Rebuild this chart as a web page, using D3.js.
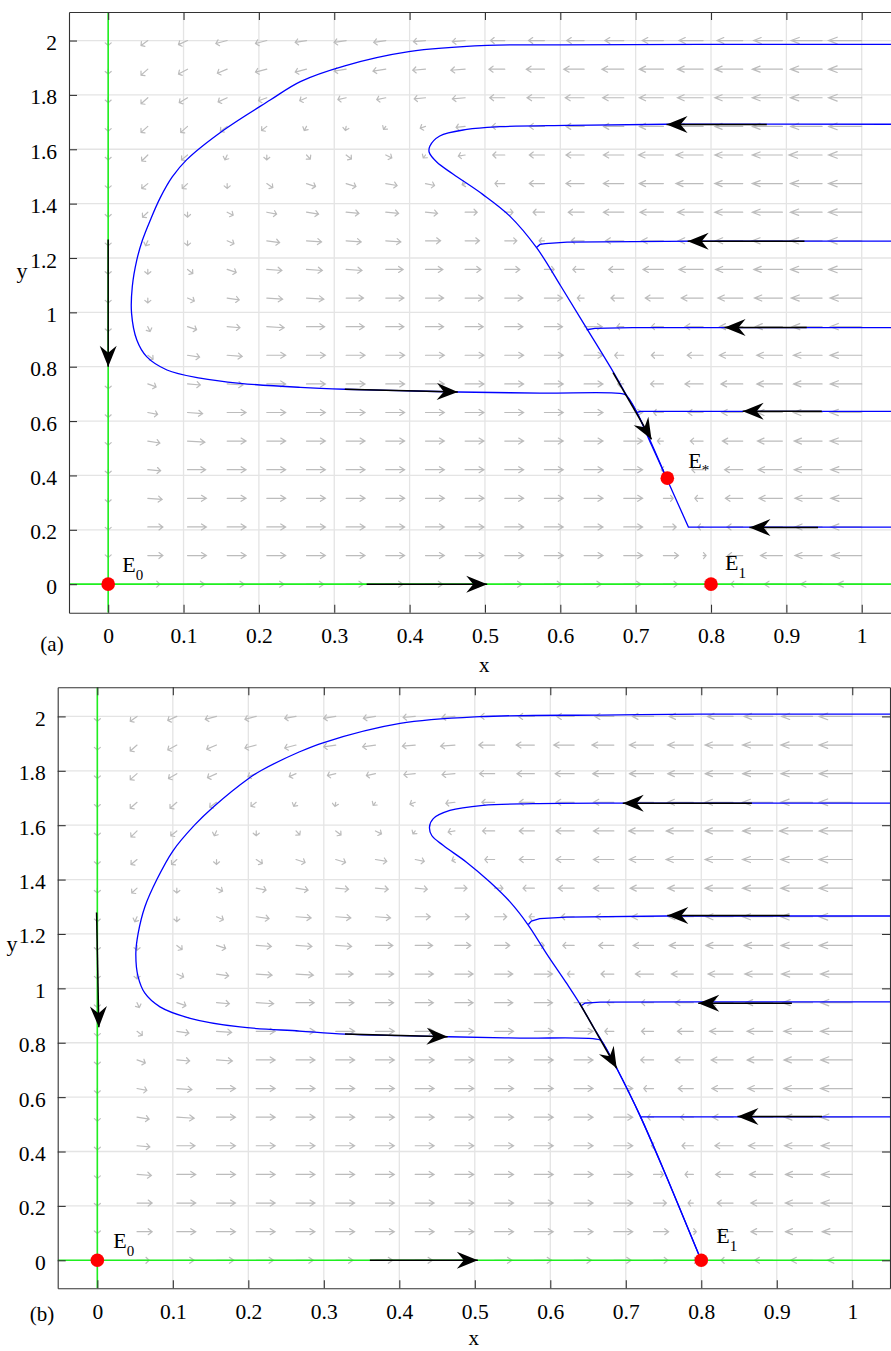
<!DOCTYPE html>
<html>
<head>
<meta charset="utf-8">
<script src="https://cdn.jsdelivr.net/npm/d3@7"></script>
<style>
  body { margin: 0; background: #fff; }
  svg text { font-family: "Liberation Serif", "Tinos", "Times New Roman", Times, "DejaVu Serif", "Noto Serif", serif; fill: #000; }
</style>
</head>
<body>
<svg id="fig" width="891" height="1351"></svg>
<script>
// ---------- data ----------
const xTicks = [0, 0.1, 0.2, 0.3, 0.4, 0.5, 0.6, 0.7, 0.8, 0.9, 1];
const yTicks = [0, 0.2, 0.4, 0.6, 0.8, 1, 1.2, 1.4, 1.6, 1.8, 2];

// quiver grid (20 x 20) and field components, in thousandths of an axis unit
const quiverX = [0, 0.0526, 0.1053, 0.1579, 0.2105, 0.2632, 0.3158, 0.3684, 0.4211, 0.4737,
                 0.5263, 0.5789, 0.6316, 0.6842, 0.7368, 0.7895, 0.8421, 0.8947, 0.9474, 1];
const quiverY = [0, 0.1053, 0.2105, 0.3158, 0.4211, 0.5263, 0.6316, 0.7368, 0.8421, 0.9474,
                 1.0526, 1.1579, 1.2632, 1.3684, 1.4737, 1.5789, 1.6842, 1.7895, 1.8947, 2];
const quiverU = [
  [0,16,23,23,23,23,23,23,23,23,23,23,23,23,19,5,-16,-24,-29,-33],
  [0,20,25,25,25,25,25,25,25,25,25,25,25,25,20,4,-20,-29,-36,-40],
  [0,20,25,25,25,25,25,25,25,25,25,25,25,25,17,-7,-21,-29,-36,-41],
  [0,19,25,25,25,25,25,25,25,25,25,25,25,25,13,-11,-23,-31,-36,-41],
  [0,17,24,25,25,25,25,25,25,25,25,25,25,25,-3,-15,-24,-32,-37,-41],
  [0,16,23,25,25,25,25,25,25,25,25,25,25,25,-8,-17,-27,-33,-37,-42],
  [0,13,20,25,25,25,25,25,25,25,25,25,25,25,-13,-20,-28,-33,-38,-42],
  [0,11,17,21,25,25,25,25,25,25,25,25,25,-8,-17,-24,-29,-34,-38,-42],
  [0,7,16,20,25,25,25,25,25,25,25,25,25,-12,-16,-21,-31,-34,-38,-42],
  [0,3,12,17,23,24,24,24,24,24,24,24,24,-9,-16,-24,-31,-36,-40,-42],
  [0,0,9,16,21,23,23,24,24,24,24,24,-9,-17,-24,-29,-33,-37,-41,-42],
  [0,0,7,12,20,21,21,23,23,21,20,13,-15,-20,-27,-32,-36,-38,-42,-44],
  [0,-3,0,9,17,20,20,20,20,19,16,-7,-17,-24,-29,-33,-36,-40,-42,-44],
  [0,-7,0,8,13,16,17,17,16,16,11,-15,-21,-27,-31,-34,-37,-40,-42,-44],
  [0,-8,-7,0,8,12,13,15,12,-4,-13,-20,-24,-27,-32,-36,-37,-40,-42,-44],
  [0,-8,-8,-3,0,5,7,8,-3,-9,-16,-20,-24,-27,-33,-36,-37,-40,-44,-44],
  [0,-9,-9,-9,-7,-3,-1,-3,-7,-12,-17,-20,-24,-27,-32,-34,-37,-40,-42,-44],
  [0,-9,-11,-12,-11,-9,-11,-12,-15,-17,-20,-23,-25,-28,-32,-34,-37,-40,-42,-44],
  [0,-9,-12,-13,-15,-15,-16,-17,-17,-19,-21,-24,-27,-29,-32,-34,-37,-40,-42,-44],
  [0,-9,-12,-15,-15,-15,-16,-16,-16,-17,-19,-21,-23,-25,-28,-32,-34,-38,-41,-44]
];
const quiverV = [
  [0,0,0,0,0,0,0,0,0,0,0,0,0,0,0,0,0,0,0,0],
  [-7,0,0,0,0,0,0,0,0,0,0,0,0,0,0,0,0,0,0,0],
  [-11,0,0,0,0,0,0,0,0,0,0,0,0,0,0,0,0,0,0,0],
  [-15,-4,0,0,0,0,0,0,0,0,0,0,0,0,0,0,0,0,0,0],
  [-15,-4,0,0,0,0,0,0,0,0,0,0,0,0,0,0,0,0,0,0],
  [-15,-7,-4,0,0,0,0,0,0,0,0,0,0,0,0,0,0,0,0,0],
  [-18,-7,-4,0,0,0,0,0,0,0,0,0,0,0,0,0,0,0,0,0],
  [-18,-11,-4,-4,0,0,0,0,0,0,0,0,0,0,0,0,0,0,0,0],
  [-18,-15,-7,-4,0,0,0,0,0,0,0,0,0,0,0,0,0,0,0,0],
  [-18,-18,-11,-4,-4,0,0,0,0,0,0,0,0,0,0,0,0,0,0,0],
  [-18,-18,-11,-7,-4,-4,0,0,0,0,0,0,0,0,0,0,0,0,0,0],
  [-18,-18,-15,-11,-4,-4,-4,0,0,0,0,0,0,0,0,0,0,0,0,0],
  [-18,-18,-18,-11,-7,-4,-4,-4,0,0,0,0,0,0,0,0,0,0,0,0],
  [-18,-18,-18,-11,-7,-7,-4,-4,-4,0,0,0,0,0,0,0,0,0,0,0],
  [-18,-18,-18,-18,-15,-11,-11,-7,-7,-4,0,0,0,0,0,0,0,0,0,0],
  [-18,-22,-18,-18,-18,-15,-15,-11,-11,-4,0,0,0,0,0,0,0,0,0,0],
  [-18,-22,-22,-18,-15,-15,-15,-11,-7,-4,0,0,0,0,0,0,0,0,0,0],
  [-18,-22,-18,-15,-11,-11,-7,-7,-4,-4,0,0,0,0,0,0,0,0,0,0],
  [-18,-22,-18,-15,-11,-11,-7,-7,-4,-4,0,0,0,0,0,0,0,0,0,0],
  [-18,-18,-15,-11,-11,-7,-7,-7,-4,-4,0,0,0,0,0,0,0,0,0,0]
];
const quiverScale = 0.001;

// panel (a) trajectories [x, y]
const trajA1 = [[1.05,1.986],[0.785,1.986],[0.600,1.984],[0.503,1.982],[0.399,1.959],[0.314,1.907],[0.255,1.849],[0.215,1.781],[0.153,1.670],[0.104,1.561],[0.085,1.498],[0.069,1.421],[0.056,1.340],[0.0455,1.266],[0.038,1.193],[0.032,1.095],[0.031,0.997],[0.038,0.898],[0.051,0.837],[0.078,0.788],[0.122,0.758],[0.175,0.739],[0.255,0.724],[0.314,0.717],[0.387,0.712],[0.464,0.707],[0.573,0.703],[0.679,0.702],[0.687,0.696],[0.701,0.635],[0.741,0.390]];
const trajA2 = [[1.05,1.692],[0.741,1.692],[0.609,1.688],[0.520,1.683],[0.476,1.673],[0.440,1.649],[0.427,1.612],[0.426,1.589],[0.436,1.553],[0.458,1.508],[0.497,1.434],[0.533,1.354],[0.569,1.236],[0.601,1.095],[0.635,0.941],[0.670,0.782],[0.690,0.685],[0.701,0.635],[0.721,0.512],[0.741,0.390]];
const trajA3 = [[1.05,1.262],[0.785,1.262],[0.609,1.258],[0.580,1.253],[0.573,1.250],[0.568,1.238]];
const trajA4 = [[1.05,0.944],[0.696,0.944],[0.646,0.941],[0.635,0.936]];
const trajA5 = [[1.05,0.636],[0.706,0.636],[0.701,0.631]];
const trajA6 = [[1.05,0.210],[0.770,0.210],[0.741,0.390]];

// panel (b) trajectories
const trajB1 = [[1.05,2.008],[0.798,2.008],[0.666,2.005],[0.507,1.999],[0.401,1.974],[0.300,1.904],[0.268,1.870],[0.217,1.801],[0.200,1.771],[0.154,1.668],[0.129,1.601],[0.100,1.505],[0.079,1.401],[0.063,1.300],[0.054,1.201],[0.051,1.129],[0.054,1.043],[0.063,0.982],[0.083,0.932],[0.123,0.890],[0.189,0.858],[0.268,0.843],[0.328,0.832],[0.401,0.826],[0.465,0.822],[0.560,0.817],[0.666,0.810],[0.670,0.798],[0.688,0.706],[0.719,0.531],[0.754,0.307],[0.796,0.026],[0.8,0]];
const trajB2 = [[1.05,1.681],[0.697,1.681],[0.577,1.679],[0.511,1.673],[0.467,1.654],[0.445,1.624],[0.440,1.593],[0.443,1.562],[0.458,1.526],[0.489,1.464],[0.520,1.391],[0.547,1.317],[0.571,1.232],[0.595,1.128],[0.622,1.017],[0.639,0.944],[0.657,0.858],[0.670,0.798],[0.688,0.706],[0.719,0.531],[0.754,0.307],[0.796,0.026],[0.8,0]];
const trajB3 = [[1.05,1.266],[0.754,1.266],[0.622,1.262],[0.586,1.256],[0.575,1.247],[0.571,1.235]];
const trajB4 = [[1.05,0.950],[0.798,0.950],[0.666,0.949],[0.646,0.946],[0.642,0.938]];
const trajB5 = [[1.05,0.527],[0.721,0.527],[0.719,0.523]];

// direction arrows: [tail, tip]
const arrowsA = [
  [[0,1.268],[0,0.800]],
  [[0.874,1.691],[0.741,1.691]],
  [[0.924,1.262],[0.769,1.262]],
  [[0.927,0.944],[0.818,0.944]],
  [[0.947,0.636],[0.842,0.636]],
  [[0.942,0.208],[0.851,0.208]],
  [[0.314,0.717],[0.464,0.707]],
  [[0.670,0.778],[0.721,0.533]],
  [[0.343,0],[0.503,0]]
];
const arrowsB = [
  [[-0.001,1.279],[0.002,0.857]],
  [[0.867,1.681],[0.696,1.681]],
  [[0.917,1.268],[0.755,1.268]],
  [[0.920,0.945],[0.796,0.945]],
  [[0.960,0.529],[0.848,0.529]],
  [[0.328,0.832],[0.464,0.822]],
  [[0.639,0.945],[0.688,0.706]],
  [[0.361,0],[0.504,0]]
];

// equilibria
const equilibriaA = [
  { name: "E", sub: "0", x: 0, y: 0 },
  { name: "E", sub: "1", x: 0.8, y: 0 },
  { name: "E", sub: "*", x: 0.742, y: 0.39 }
];
const equilibriaB = [
  { name: "E", sub: "0", x: 0, y: 0 },
  { name: "E", sub: "1", x: 0.8, y: 0 }
];

// ---------- layout ----------
const panels = [
  { id: "a", left: 69, right: 899.4, top: 12, bottom: 612.7,
    xDomain: [-0.052, 1.05], yDomain: [-0.105, 2.105],
    trajectories: [trajA1, trajA2, trajA3, trajA4, trajA5, trajA6],
    arrows: arrowsA, equilibria: equilibriaA,
    labelOffsets: [[14, -12], [14, -14], [21, -10]],
    xLabelGap: 59, yLabel: [22, 278], tag: [52, 651] },
  { id: "b", left: 57.7, right: 890, top: 687.3, bottom: 1288.3,
    xDomain: [-0.0525, 1.05], yDomain: [-0.103, 2.107],
    trajectories: [trajB1, trajB2, trajB3, trajB4, trajB5],
    arrows: arrowsB, equilibria: equilibriaB,
    labelOffsets: [[16, -12], [15, -17]],
    xLabelGap: 57, yLabel: [12, 951], tag: [42, 1321] }
];

const FONT = '"Liberation Serif", "Tinos", "Times New Roman", Times, "DejaVu Serif", "Noto Serif", serif';
const svg = d3.select("#fig");

function quiverPath(x0, y0, x1, y1) {
  const dx = x1 - x0, dy = y1 - y0;
  const L = Math.hypot(dx, dy);
  if (L < 0.5) return "";
  const ux = dx / L, uy = dy / L;
  const back = Math.max(0.26 * L, 2.6), hw = Math.max(0.1 * L, 3);
  const bx = x1 - back * ux, by = y1 - back * uy;
  return `M${x0},${y0}L${x1},${y1}M${bx - hw * uy},${by + hw * ux}L${x1},${y1}L${bx + hw * uy},${by - hw * ux}`;
}

function headPath(x0, y0, x1, y1) {
  const dx = x1 - x0, dy = y1 - y0;
  const L = Math.hypot(dx, dy);
  const ux = dx / L, uy = dy / L;
  const len = 21, hw = 8.5, notch = 14;
  const bx = x1 - len * ux, by = y1 - len * uy;
  return `M${x1},${y1}L${bx - hw * uy},${by + hw * ux}L${x1 - notch * ux},${y1 - notch * uy}L${bx + hw * uy},${by - hw * ux}Z`;
}

function drawPanel(p) {
  const x = d3.scaleLinear().domain(p.xDomain).range([p.left, p.right]);
  const y = d3.scaleLinear().domain(p.yDomain).range([p.bottom, p.top]);
  const root = svg.append("g");

  root.append("clipPath").attr("id", "clip-" + p.id)
    .append("rect")
      .attr("x", p.left).attr("y", p.top)
      .attr("width", p.right - p.left).attr("height", p.bottom - p.top);
  const plot = root.append("g").attr("clip-path", `url(#clip-${p.id})`);

  // grid
  plot.selectAll("line.gx").data(xTicks).join("line").attr("class", "gx")
    .attr("x1", d => x(d)).attr("x2", d => x(d))
    .attr("y1", p.top).attr("y2", p.bottom)
    .attr("stroke", "#e4e4e4").attr("stroke-width", 1.3);
  plot.selectAll("line.gy").data(yTicks).join("line").attr("class", "gy")
    .attr("y1", d => y(d)).attr("y2", d => y(d))
    .attr("x1", p.left).attr("x2", p.right)
    .attr("stroke", "#e4e4e4").attr("stroke-width", 1.3);

  // quiver field
  const field = [];
  quiverY.forEach((yv, j) => quiverX.forEach((xv, i) => {
    field.push({ x0: xv, y0: yv, u: quiverU[j][i] * quiverScale, v: quiverV[j][i] * quiverScale });
  }));
  plot.append("g").selectAll("path").data(field).join("path")
    .attr("d", d => quiverPath(x(d.x0), y(d.y0), x(d.x0 + d.u), y(d.y0 + d.v)))
    .attr("fill", "none").attr("stroke", "#bcbcbc").attr("stroke-width", 1.2)
    .attr("stroke-linecap", "round");

  // invariant axes
  plot.append("line").attr("x1", x(0)).attr("x2", x(0)).attr("y1", p.top).attr("y2", p.bottom)
    .attr("stroke", "#1ff01f").attr("stroke-width", 1.6);
  plot.append("line").attr("x1", p.left).attr("x2", p.right).attr("y1", y(0)).attr("y2", y(0))
    .attr("stroke", "#1ff01f").attr("stroke-width", 1.6);

  // trajectories
  const smooth = d3.line().x(d => x(d[0])).y(d => y(d[1])).curve(d3.curveCatmullRom.alpha(0.5));
  const straight = d3.line().x(d => x(d[0])).y(d => y(d[1]));
  plot.selectAll("path.traj").data(p.trajectories).join("path").attr("class", "traj")
    .attr("d", d => d.length > 8 ? smooth(d) : straight(d))
    .attr("fill", "none").attr("stroke", "#0000ff").attr("stroke-width", 1.3);

  // direction arrows
  const ar = plot.append("g").selectAll("g").data(p.arrows).join("g");
  ar.append("line")
    .attr("x1", d => x(d[0][0])).attr("y1", d => y(d[0][1]))
    .attr("x2", d => x(d[1][0])).attr("y2", d => y(d[1][1]))
    .attr("stroke", "#000").attr("stroke-width", 1.5);
  ar.append("path")
    .attr("d", d => headPath(x(d[0][0]), y(d[0][1]), x(d[1][0]), y(d[1][1])))
    .attr("fill", "#000");

  // axes (box with inward ticks)
  const fmt = d => String(d);
  root.append("g").attr("transform", `translate(0,${p.bottom})`)
    .call(d3.axisBottom(x).tickValues(xTicks).tickSize(-8).tickSizeOuter(0).tickPadding(15).tickFormat(fmt));
  root.append("g").attr("transform", `translate(0,${p.top})`)
    .call(d3.axisTop(x).tickValues(xTicks).tickSize(-8).tickSizeOuter(0).tickFormat(""));
  const left = root.append("g").attr("transform", `translate(${p.left},0)`)
    .call(d3.axisLeft(y).tickValues(yTicks).tickSize(-8).tickSizeOuter(0).tickPadding(12).tickFormat(fmt));
  root.append("g").attr("transform", `translate(${p.right},0)`)
    .call(d3.axisRight(y).tickValues(yTicks).tickSize(-8).tickSizeOuter(0).tickFormat(""));
  root.selectAll("g").attr("font-family", null);
  root.selectAll(".domain, .tick line").attr("stroke", "#333").attr("stroke-width", 1.1);
  root.selectAll(".tick text").attr("font-size", 21.5).attr("fill", "#000");
  left.selectAll(".tick text").attr("dy", "0.42em");

  // equilibria
  root.selectAll("circle.eq").data(p.equilibria).join("circle").attr("class", "eq")
    .attr("cx", d => x(d.x)).attr("cy", d => y(d.y)).attr("r", 6.8)
    .attr("fill", "#ff0000");
  const lab = root.selectAll("text.eq").data(p.equilibria).join("text").attr("class", "eq")
    .attr("x", (d, i) => x(d.x) + p.labelOffsets[i][0])
    .attr("y", (d, i) => y(d.y) + p.labelOffsets[i][1])
    .attr("font-size", 22);
  lab.append("tspan").text(d => d.name);
  lab.append("tspan").attr("font-size", 15)
    .attr("dy", d => d.sub === "*" ? 7 : 8)
    .text(d => d.sub);

  // axis titles and panel tag
  root.append("text").attr("x", (p.left + p.right) / 2).attr("y", p.bottom + p.xLabelGap)
    .attr("text-anchor", "middle").attr("font-size", 21).text("x");
  root.append("text").attr("x", p.yLabel[0]).attr("y", p.yLabel[1])
    .attr("text-anchor", "middle").attr("font-size", 22).text("y");
  root.append("text").attr("x", p.tag[0]).attr("y", p.tag[1])
    .attr("text-anchor", "middle").attr("font-size", 21).text(`(${p.id})`);

  root.selectAll("text").style("font-family", FONT);
}

panels.forEach(drawPanel);
</script>
</body>
</html>
